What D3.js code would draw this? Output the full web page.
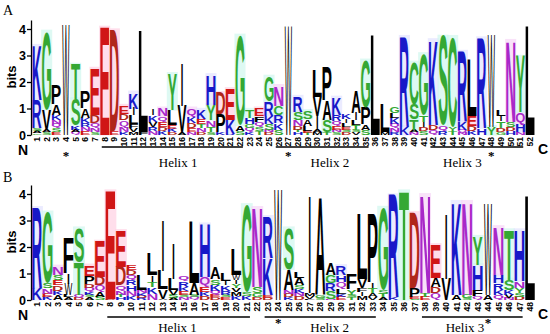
<!DOCTYPE html>
<html><head><meta charset="utf-8">
<script src="https://cdn.jsdelivr.net/npm/d3@7"></script>
<style>body{margin:0;background:#fff}svg{display:block}</style>
</head><body>
<svg id="chart" width="550" height="334"></svg>
<script>
// ---------- DATA (letters listed top -> bottom, heights in bits) ----------
const stacksA = [
 [["K",2.05],["R",1.05],["S",0.1],["A",0.1],["G",0.06]],
 [["G",2.95],["V",0.75],["A",0.1],["S",0.1]],
 [["P",0.75],["A",0.4],["K",0.2],["N",0.15],["Q",0.15],["S",0.15],["E",0.1]],
 [["W",4.15]],
 [["T",1.3],["S",1.0],["K",0.15],["A",0.1],["Q",0.1]],
 [["P",0.65],["A",0.35],["K",0.2],["R",0.15],["N",0.15],["E",0.15]],
 [["E",1.75],["D",0.3],["Q",0.2],["N",0.15],["S",0.1]],
 [["E",4.05]],
 [["D",3.8],["E",0.15]],
 [["E",0.3],["D",0.25],["Q",0.25],["N",0.2],["K",0.1]],
 [["K",0.6],["I",0.26],["L",0.34],["F",0.15],["V",0.15],["M",0.1]],
 [["L",3.8],["F",0.1]],
 [["I",0.25],["K",0.25],["V",0.2],["R",0.15],["N",0.15]],
 [["N",0.3],["Q",0.2],["E",0.2],["D",0.15],["K",0.15]],
 [["Y",1.36],["L",0.57],["E",0.15],["K",0.12],["D",0.1]],
 [["I",1.6],["V",1.0],["A",0.1]],
 [["Q",0.3],["K",0.25],["D",0.2],["E",0.15],["N",0.1]],
 [["K",0.35],["E",0.2],["T",0.15],["N",0.15],["D",0.1]],
 [["H",1.13],["Y",0.57],["N",0.26],["T",0.2],["S",0.1]],
 [["D",0.8],["P",0.68],["K",0.1]],
 [["E",1.15],["K",0.53],["R",0.05]],
 [["G",3.4],["A",0.2],["S",0.15]],
 [["T",0.3],["H",0.25],["G",0.15],["Q",0.15],["K",0.1]],
 [["E",0.3],["F",0.2],["Q",0.2],["S",0.15],["T",0.15]],
 [["G",0.94],["R",0.53],["K",0.3],["S",0.23],["N",0.1],["D",0.1]],
 [["N",0.75],["C",0.34],["R",0.3],["K",0.26],["S",0.2]],
 [["W",4.1]],
 [["R",0.57],["S",0.3],["N",0.23],["D",0.14],["T",0.1],["H",0.1]],
 [["S",0.3],["A",0.26],["L",0.19],["E",0.08],["T",0.07]],
 [["L",1.02],["V",0.72],["I",0.53],["A",0.1],["M",0.1]],
 [["P",1.25],["A",0.75],["S",0.45],["T",0.1]],
 [["K",0.64],["R",0.23],["Q",0.19],["E",0.15],["N",0.1],["S",0.1]],
 [["K",0.2],["I",0.15],["L",0.15],["E",0.1],["S",0.1],["D",0.1]],
 [["A",0.83],["I",0.26],["L",0.19],["T",0.19],["S",0.1],["V",0.1]],
 [["G",1.77],["P",0.64],["A",0.2],["S",0.2]],
 [["L",3.75]],
 [["L",1.05],["M",0.1]],
 [["G",0.26],["L",0.2],["K",0.23],["Q",0.15],["N",0.15],["R",0.1]],
 [["R",3.4],["K",0.3]],
 [["C",1.58],["S",0.57],["T",0.38],["A",0.1],["N",0.1]],
 [["G",2.3],["T",0.25],["I",0.2],["D",0.15],["S",0.15]],
 [["K",3.2],["D",0.2],["Q",0.18]],
 [["S",3.36],["Q",0.2],["R",0.15]],
 [["C",3.4],["Y",0.15],["T",0.15]],
 [["R",2.64],["K",0.3],["Q",0.1],["N",0.1]],
 [["L",2.1],["E",0.38],["D",0.2],["K",0.15]],
 [["R",3.4],["H",0.25]],
 [["W",3.5],["Y",0.3]],
 [["L",0.26],["I",0.2],["T",0.26],["D",0.15],["G",0.1]],
 [["N",3.05],["S",0.2],["D",0.15],["H",0.15]],
 [["Y",2.1],["Q",0.45],["H",0.3],["N",0.1]],
 [["L",4.1]]
];
const stacksB = [
 [["R",3.05],["K",0.42]],
 [["G",2.66],["S",0.2],["N",0.2],["E",0.12],["K",0.12]],
 [["N",0.31],["S",0.2],["E",0.2],["D",0.2],["K",0.15],["A",0.2]],
 [["F",1.3],["I",0.38],["W",0.42],["L",0.1],["A",0.1]],
 [["S",1.27],["T",1.24],["Q",0.1],["D",0.09]],
 [["E",0.4],["P",0.3],["D",0.15],["Q",0.15],["K",0.1],["S",0.1],["A",0.1]],
 [["E",1.33],["D",0.31],["Q",0.25],["A",0.19],["S",0.12]],
 [["E",4.05],["D",0.05]],
 [["E",1.35],["D",0.7],["Q",0.2],["N",0.15],["T",0.1],["H",0.1]],
 [["E",0.2],["D",0.2],["Q",0.2],["R",0.2],["H",0.2],["N",0.2],["K",0.15]],
 [["L",0.56],["N",0.12],["K",0.1],["D",0.08],["R",0.08]],
 [["L",0.82],["I",0.25],["T",0.2],["K",0.25],["N",0.24]],
 [["I",1.9],["L",0.7],["V",0.35],["A",0.05]],
 [["I",1.3],["L",0.43],["V",0.19],["S",0.12],["A",0.07]],
 [["Q",0.2],["R",0.2],["K",0.15],["E",0.15],["S",0.1],["N",0.1]],
 [["L",2.3],["A",0.45],["S",0.1],["Q",0.1]],
 [["H",2.0],["Q",0.35],["E",0.2],["K",0.15],["D",0.15]],
 [["A",0.42],["S",0.2],["K",0.23],["Q",0.15],["E",0.1],["D",0.1]],
 [["L",0.3],["I",0.15],["K",0.2],["R",0.15],["S",0.1],["E",0.1]],
 [["L",0.95],["W",0.2],["I",0.15],["Y",0.15],["V",0.15],["M",0.15],["K",0.15]],
 [["G",3.3],["S",0.13],["K",0.15]],
 [["N",2.97],["S",0.25],["G",0.15],["D",0.1]],
 [["R",1.55],["K",1.39],["E",0.1],["D",0.09]],
 [["W",4.15]],
 [["S",1.55],["A",0.77],["N",0.15],["D",0.12],["K",0.11]],
 [["L",0.23],["A",0.27],["S",0.15],["K",0.15],["N",0.12],["D",0.14]],
 [["I",3.6],["M",0.1],["V",0.1],["L",0.05]],
 [["A",3.66],["G",0.1],["S",0.09]],
 [["A",0.45],["G",0.3],["R",0.3],["S",0.3],["N",0.05]],
 [["R",0.35],["H",0.25],["Q",0.25],["L",0.2],["K",0.1],["E",0.13]],
 [["F",0.6],["Y",0.2],["S",0.1],["T",0.1]],
 [["L",2.45],["V",0.35],["F",0.15],["I",0.15],["M",0.15]],
 [["P",2.6],["I",0.2],["T",0.2],["A",0.15],["V",0.1]],
 [["G",3.1],["S",0.15],["T",0.13],["A",0.1]],
 [["R",3.85],["K",0.1]],
 [["T",4.1]],
 [["D",2.83],["P",0.33],["E",0.07],["S",0.05]],
 [["N",3.7],["T",0.13],["E",0.13]],
 [["E",1.24],["A",0.33],["D",0.24],["Q",0.26]],
 [["I",2.4],["V",0.8]],
 [["K",3.5],["A",0.2]],
 [["N",3.5],["G",0.12],["S",0.08]],
 [["Y",1.06],["H",0.94],["F",0.25],["Q",0.13]],
 [["W",3.45],["A",0.2]],
 [["N",1.82],["H",0.3],["R",0.26],["K",0.2],["Q",0.17]],
 [["T",1.86],["S",0.39],["K",0.18],["V",0.12],["N",0.08]],
 [["H",1.93],["N",0.24],["Y",0.2],["S",0.13],["D",0.13]],
 [["L",3.9]]
];
const bitTicks = [0, 1, 2, 3, 4];
const helicesA = [{label:"Helix 1", from:8, to:22, at:15.6}, {label:"Helix 2", from:26, to:35, at:31.3}, {label:"Helix 3", from:42, to:51, at:45.0}];
const helicesB = [{label:"Helix 1", from:8, to:21, at:14.4}, {label:"Helix 2", from:23, to:33, at:28.9}, {label:"Helix 3", from:38, to:47, at:41.8}];
const starsA = [4, 27, 48];
const starsB = [24, 44];

// ---------- STYLE ----------
const colorOf = ch => {
  if ("KRH".includes(ch)) return "#1818c8";
  if ("GSTYC".includes(ch)) return "#34a834";
  if ("NQ".includes(ch)) return "#a828c8";
  if (ch === "E") return "#d01616";
  if (ch === "D") return "#b0261a";
  return "#000000";
};
const haloOf = ch => {
  if ("KRH".includes(ch)) return "#e2e2ff";
  if ("GSTYC".includes(ch)) return "#d0f6ee";
  if ("NQ".includes(ch)) return "#f6d6f6";
  if ("ED".includes(ch)) return "#ffd0e2";
  return null;
};

const svg = d3.select("#chart");
const FS = 100;
const ctx = document.createElement("canvas").getContext("2d");
const gm = {};
function glyph(ch, weight) {
  const key = ch + weight;
  if (!gm[key]) {
    ctx.font = `${weight} ${FS}px "Liberation Sans"`;
    const m = ctx.measureText(ch);
    gm[key] = {l: m.actualBoundingBoxLeft, r: m.actualBoundingBoxRight, a: m.actualBoundingBoxAscent, d: m.actualBoundingBoxDescent};
  }
  return gm[key];
}

function drawPanel(cfg) {
  const n = cfg.stacks.length;
  const x = d3.scaleLinear().domain([1, n]).range([37, 530]);
  const step = x(2) - x(1);
  const y = d3.scaleLinear().domain([0, 4.34]).range([cfg.zeroY, cfg.zeroY - 4.34 * 26.5]);
  const gHalo = svg.append("g");
  const gLet = svg.append("g");
  const colW = step * 0.94;
  cfg.stacks.forEach((stack, i) => {
    const pos = i + 1;
    let cum = 0;
    stack.slice().reverse().forEach(([ch, bits]) => {
      const yb = y(cum), yt = y(cum + bits);
      cum += bits;
      const h = yb - yt;
      if (h < 0.4) return;
      const weight = (ch === "W" || ch === "I") ? "normal" : "bold";
      const w = ch === "I" ? Math.max(1.2, colW * 0.16) : (ch === "W" ? colW * 0.8 : colW);
      const x0 = x(pos) - w / 2;
      const halo = haloOf(ch);
      if (halo && bits >= 0.3) {
        gHalo.append("rect").attr("x", x(pos) - colW / 2 - 1).attr("y", yt - 2).attr("width", colW + 2).attr("height", h + 2.5)
          .attr("fill", halo).attr("opacity", 0.7);
      }
      const m = glyph(ch, weight);
      const gw = m.l + m.r, gh = m.a + m.d;
      gLet.append("text")
        .attr("transform", `translate(${x0},${yt}) scale(${w / gw},${h / gh})`)
        .attr("x", m.l).attr("y", m.a)
        .attr("font-family", "Liberation Sans").attr("font-weight", weight).attr("font-size", FS)
        .attr("fill", colorOf(ch)).text(ch);
    });
  });
  // y axis
  const ax = svg.append("g").attr("transform", "translate(31,0)")
    .call(d3.axisLeft(y).tickValues(bitTicks).tickSize(4).tickSizeOuter(0).tickFormat(d3.format("d")));
  ax.select(".domain").attr("stroke-width", 1.3);
  ax.selectAll(".tick line").attr("stroke-width", 1.3);
  ax.selectAll("text").attr("font-family", "Liberation Sans").attr("font-weight", "bold").attr("font-size", 12.5).attr("fill", "#000").attr("x", -5);
  svg.append("text").attr("transform", `translate(16,${cfg.zeroY - 58}) rotate(-90)`).attr("text-anchor", "middle")
    .attr("font-family", "Liberation Sans").attr("font-weight", "bold").attr("font-size", 13).text("bits");
  // position labels
  svg.append("g").selectAll("text").data(d3.range(1, n + 1)).join("text")
    .attr("transform", d => `translate(${x(d)},${cfg.zeroY + 2}) rotate(-90)`)
    .attr("text-anchor", "end").attr("dy", "0.36em")
    .attr("font-family", "Liberation Sans").attr("font-weight", "bold").attr("font-size", 8.5).text(d => d);
  // N / C
  svg.append("text").attr("x", 23).attr("y", cfg.zeroY + 20).attr("text-anchor", "middle")
    .attr("font-family", "Liberation Sans").attr("font-weight", "bold").attr("font-size", 14).text("N");
  svg.append("text").attr("x", 543).attr("y", cfg.zeroY + 19).attr("text-anchor", "middle")
    .attr("font-family", "Liberation Sans").attr("font-weight", "bold").attr("font-size", 14).text("C");
  // helices
  cfg.helices.forEach(hx => {
    svg.append("line").attr("x1", x(hx.from - 0.3)).attr("x2", x(hx.to + 0.3))
      .attr("y1", cfg.zeroY + cfg.lineDy).attr("y2", cfg.zeroY + cfg.lineDy).attr("stroke", "#000").attr("stroke-width", 1.4);
    svg.append("text").attr("x", x(hx.at)).attr("y", cfg.zeroY + cfg.labelDy).attr("text-anchor", "middle")
      .attr("font-family", "Liberation Serif").attr("font-size", 13).text(hx.label);
  });
  cfg.stars.forEach(s => {
    svg.append("text").attr("x", x(s)).attr("y", cfg.zeroY + cfg.starDy).attr("text-anchor", "middle")
      .attr("font-family", "Liberation Serif").attr("font-weight", "bold").attr("font-size", 13).text("*");
  });
  svg.append("text").attr("x", 3).attr("y", cfg.tagY).attr("font-family", "Liberation Serif").attr("font-size", 14).text(cfg.tag);
}

drawPanel({stacks: stacksA, zeroY: 135, helices: helicesA, stars: starsA, lineDy: 12, labelDy: 32, starDy: 25, tag: "A", tagY: 15});
drawPanel({stacks: stacksB, zeroY: 300, helices: helicesB, stars: starsB, lineDy: 17, labelDy: 32, starDy: 27, tag: "B", tagY: 182});
</script>
</body></html>
